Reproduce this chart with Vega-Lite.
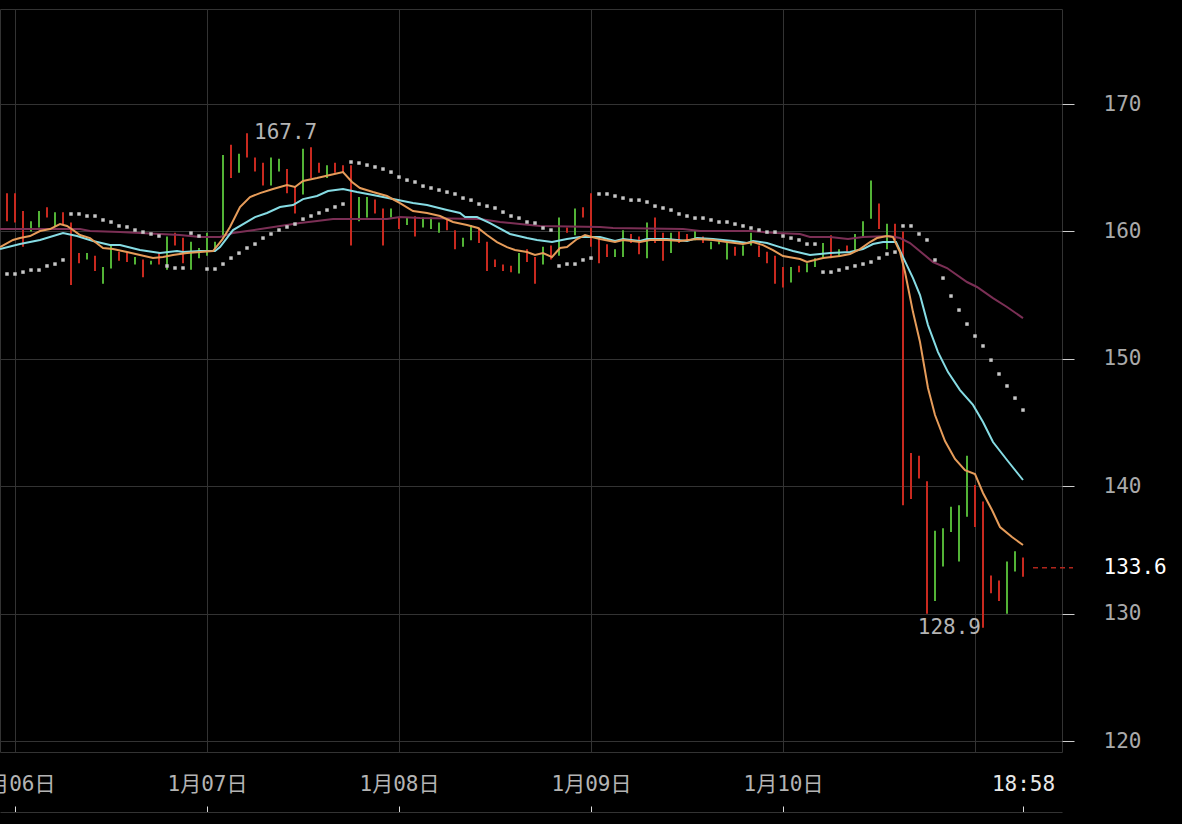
{
"$schema": "https://vega.github.io/schema/vega-lite/v6.json",
"width": 1062, "height": 743,
"autosize": {"type": "none"},
"padding": {"left": 0, "top": 9, "right": 120, "bottom": 72},
"background": "#000000",
"config": {"view": {"stroke": "#333333", "strokeWidth": 1}, "font": "DejaVu Sans Mono"},
"datasets": {
"candles": [
{"t":-1,"hi":163.0,"lo":160.8,"d":"down"},{"t":0,"hi":163.0,"lo":160.7,"d":"down"},{"t":1,"hi":161.6,"lo":158.8,"d":"down"},{"t":2,"hi":160.8,"lo":160.0,"d":"up"},{"t":3,"hi":161.6,"lo":160.3,"d":"up"},{"t":4,"hi":161.9,"lo":161.1,"d":"down"},{"t":5,"hi":161.5,"lo":160.4,"d":"up"},{"t":6,"hi":161.5,"lo":160.5,"d":"down"},{"t":7,"hi":160.7,"lo":155.8,"d":"down"},{"t":8,"hi":158.3,"lo":157.5,"d":"down"},
{"t":9,"hi":158.3,"lo":157.8,"d":"up"},{"t":10,"hi":158.1,"lo":156.9,"d":"down"},{"t":11,"hi":157.2,"lo":155.9,"d":"up"},{"t":12,"hi":158.9,"lo":157.1,"d":"up"},{"t":13,"hi":158.4,"lo":157.7,"d":"down"},{"t":14,"hi":158.3,"lo":157.6,"d":"down"},{"t":15,"hi":158.0,"lo":157.4,"d":"up"},{"t":16,"hi":157.8,"lo":156.4,"d":"down"},{"t":17,"hi":157.7,"lo":157.4,"d":"up"},{"t":18,"hi":158.3,"lo":157.4,"d":"down"},
{"t":19,"hi":159.6,"lo":157.0,"d":"up"},{"t":20,"hi":159.9,"lo":158.9,"d":"down"},{"t":21,"hi":159.5,"lo":157.5,"d":"down"},{"t":22,"hi":159.2,"lo":157.0,"d":"up"},{"t":23,"hi":158.7,"lo":157.9,"d":"up"},{"t":24,"hi":159.9,"lo":158.1,"d":"up"},{"t":25,"hi":159.2,"lo":158.6,"d":"up"},{"t":26,"hi":166.0,"lo":159.5,"d":"up"},{"t":27,"hi":166.8,"lo":164.2,"d":"down"},{"t":28,"hi":166.1,"lo":164.6,"d":"up"},
{"t":29,"hi":167.7,"lo":165.8,"d":"down"},{"t":30,"hi":165.8,"lo":164.7,"d":"down"},{"t":31,"hi":165.4,"lo":163.6,"d":"down"},{"t":32,"hi":165.8,"lo":163.6,"d":"up"},{"t":33,"hi":165.7,"lo":164.7,"d":"up"},{"t":34,"hi":164.9,"lo":163.0,"d":"down"},{"t":35,"hi":163.5,"lo":161.4,"d":"down"},{"t":36,"hi":166.5,"lo":162.9,"d":"up"},{"t":37,"hi":166.6,"lo":164.2,"d":"down"},{"t":38,"hi":165.4,"lo":164.6,"d":"down"},
{"t":39,"hi":165.2,"lo":164.2,"d":"up"},{"t":40,"hi":165.4,"lo":164.6,"d":"down"},{"t":41,"hi":165.2,"lo":164.6,"d":"down"},{"t":42,"hi":165.2,"lo":158.9,"d":"down"},{"t":43,"hi":162.7,"lo":160.8,"d":"up"},{"t":44,"hi":162.7,"lo":161.1,"d":"up"},{"t":45,"hi":162.5,"lo":161.4,"d":"down"},{"t":46,"hi":161.8,"lo":158.9,"d":"down"},{"t":47,"hi":161.8,"lo":161.1,"d":"up"},{"t":48,"hi":161.1,"lo":160.2,"d":"down"},
{"t":49,"hi":161.1,"lo":160.5,"d":"up"},{"t":50,"hi":161.2,"lo":159.6,"d":"down"},{"t":51,"hi":161.1,"lo":160.3,"d":"up"},{"t":52,"hi":161.1,"lo":160.2,"d":"up"},{"t":53,"hi":160.7,"lo":159.9,"d":"up"},{"t":54,"hi":161.0,"lo":160.1,"d":"down"},{"t":55,"hi":160.1,"lo":158.6,"d":"down"},{"t":56,"hi":159.5,"lo":158.8,"d":"up"},{"t":57,"hi":160.5,"lo":159.3,"d":"up"},{"t":58,"hi":160.3,"lo":159.1,"d":"down"},
{"t":59,"hi":159.2,"lo":156.9,"d":"down"},{"t":60,"hi":157.8,"lo":157.2,"d":"down"},{"t":61,"hi":157.4,"lo":156.9,"d":"down"},{"t":62,"hi":157.3,"lo":156.8,"d":"down"},{"t":63,"hi":158.3,"lo":156.7,"d":"up"},{"t":64,"hi":158.6,"lo":157.6,"d":"down"},{"t":65,"hi":158.0,"lo":155.9,"d":"down"},{"t":66,"hi":158.8,"lo":157.4,"d":"up"},{"t":67,"hi":158.9,"lo":157.8,"d":"down"},{"t":68,"hi":161.1,"lo":158.1,"d":"up"},
{"t":69,"hi":160.3,"lo":159.9,"d":"down"},{"t":70,"hi":161.8,"lo":159.7,"d":"up"},{"t":71,"hi":161.9,"lo":161.1,"d":"down"},{"t":72,"hi":163.0,"lo":158.8,"d":"down"},{"t":73,"hi":159.5,"lo":157.5,"d":"down"},{"t":74,"hi":159.0,"lo":158.0,"d":"down"},{"t":75,"hi":158.6,"lo":158.0,"d":"up"},{"t":76,"hi":160.1,"lo":158.0,"d":"up"},{"t":77,"hi":159.8,"lo":159.1,"d":"down"},{"t":78,"hi":159.6,"lo":158.2,"d":"down"},
{"t":79,"hi":160.7,"lo":157.9,"d":"up"},{"t":80,"hi":161.1,"lo":159.1,"d":"down"},{"t":81,"hi":159.9,"lo":157.7,"d":"down"},{"t":82,"hi":159.9,"lo":158.3,"d":"up"},{"t":83,"hi":160.0,"lo":159.1,"d":"down"},{"t":84,"hi":159.8,"lo":159.3,"d":"down"},{"t":85,"hi":160.1,"lo":159.3,"d":"up"},{"t":86,"hi":159.6,"lo":159.1,"d":"down"},{"t":87,"hi":159.2,"lo":158.6,"d":"up"},{"t":88,"hi":159.3,"lo":159.0,"d":"up"},
{"t":89,"hi":159.1,"lo":157.8,"d":"up"},{"t":90,"hi":158.8,"lo":158.1,"d":"down"},{"t":91,"hi":158.9,"lo":158.1,"d":"up"},{"t":92,"hi":159.9,"lo":158.9,"d":"up"},{"t":93,"hi":158.9,"lo":158.0,"d":"down"},{"t":94,"hi":158.4,"lo":157.5,"d":"down"},{"t":95,"hi":158.1,"lo":155.9,"d":"down"},{"t":96,"hi":157.2,"lo":155.6,"d":"down"},{"t":97,"hi":157.2,"lo":156.0,"d":"up"},{"t":98,"hi":157.3,"lo":156.8,"d":"down"},
{"t":99,"hi":157.5,"lo":156.8,"d":"up"},{"t":100,"hi":157.9,"lo":157.2,"d":"up"},{"t":101,"hi":159.1,"lo":158.0,"d":"up"},{"t":102,"hi":159.7,"lo":157.9,"d":"down"},{"t":103,"hi":158.6,"lo":158.0,"d":"up"},{"t":104,"hi":158.9,"lo":158.4,"d":"down"},{"t":105,"hi":159.8,"lo":158.5,"d":"up"},{"t":106,"hi":160.8,"lo":159.5,"d":"up"},{"t":107,"hi":164.0,"lo":161.0,"d":"up"},{"t":108,"hi":162.2,"lo":160.2,"d":"down"},
{"t":109,"hi":160.6,"lo":158.6,"d":"up"},{"t":110,"hi":160.6,"lo":159.3,"d":"down"},{"t":111,"hi":160.0,"lo":138.5,"d":"down"},{"t":112,"hi":142.6,"lo":139.0,"d":"down"},{"t":113,"hi":142.4,"lo":140.6,"d":"down"},{"t":114,"hi":140.4,"lo":130.0,"d":"down"},{"t":115,"hi":136.5,"lo":131.0,"d":"up"},{"t":116,"hi":136.7,"lo":133.7,"d":"up"},{"t":117,"hi":138.4,"lo":136.4,"d":"up"},{"t":118,"hi":138.5,"lo":134.1,"d":"up"},
{"t":119,"hi":142.4,"lo":137.6,"d":"up"},{"t":120,"hi":140.1,"lo":136.8,"d":"down"},{"t":121,"hi":138.8,"lo":128.9,"d":"down"},{"t":122,"hi":133.0,"lo":131.6,"d":"down"},{"t":123,"hi":132.6,"lo":131.0,"d":"down"},{"t":124,"hi":134.1,"lo":130.0,"d":"up"},{"t":125,"hi":134.9,"lo":133.3,"d":"up"},{"t":126,"hi":134.4,"lo":132.9,"d":"down"}
],
"ma": [
{"k":"ma30","t":-1.875,"v":160.19},{"k":"ma30","t":8.125,"v":160.19},{"k":"ma30","t":9.375,"v":160.03},{"k":"ma30","t":13.125,"v":159.95},{"k":"ma30","t":15.625,"v":159.87},{"k":"ma30","t":18.125,"v":159.8},{"k":"ma30","t":20.625,"v":159.72},{"k":"ma30","t":23.125,"v":159.56},{"k":"ma30","t":25.625,"v":159.56},{"k":"ma30","t":27.25,"v":159.87},{"k":"ma30","t":31.5,"v":160.27},{"k":"ma30","t":35.625,"v":160.66},{"k":"ma30","t":37.75,"v":160.82},{"k":"ma30","t":39.75,"v":160.97},{"k":"ma30","t":46.5,"v":160.97},{"k":"ma30","t":48.125,"v":161.13},{"k":"ma30","t":50.625,"v":161.05},{"k":"ma30","t":58.125,"v":160.97},{"k":"ma30","t":60.625,"v":160.74},{"k":"ma30","t":63.125,"v":160.58},{"k":"ma30","t":65.625,"v":160.43},{"k":"ma30","t":73.125,"v":160.35},{"k":"ma30","t":74.75,"v":160.27},{"k":"ma30","t":83.5,"v":160.19},{"k":"ma30","t":85.625,"v":160.03},{"k":"ma30","t":91.875,"v":160.03},{"k":"ma30","t":95.25,"v":159.87},{"k":"ma30","t":98.125,"v":159.8},{"k":"ma30","t":99.375,"v":159.56},{"k":"ma30","t":101.875,"v":159.56},{"k":"ma30","t":104.125,"v":159.4},{"k":"ma30","t":106,"v":159.56},{"k":"ma30","t":109.375,"v":159.64},{"k":"ma30","t":110.625,"v":159.48},{"k":"ma30","t":111.875,"v":159.09},{"k":"ma30","t":114.75,"v":157.6},{"k":"ma30","t":116.5,"v":157.13},{"k":"ma30","t":119,"v":156.03},{"k":"ma30","t":120.25,"v":155.64},{"k":"ma30","t":122.25,"v":154.77},{"k":"ma30","t":124,"v":154.07},{"k":"ma30","t":126,"v":153.2},
{"k":"ma10","t":-1.875,"v":158.62},{"k":"ma10","t":0.625,"v":159.01},{"k":"ma10","t":3.125,"v":159.33},{"k":"ma10","t":6,"v":159.87},{"k":"ma10","t":7.75,"v":159.64},{"k":"ma10","t":9.75,"v":159.25},{"k":"ma10","t":11.875,"v":158.93},{"k":"ma10","t":13.125,"v":158.93},{"k":"ma10","t":15.625,"v":158.54},{"k":"ma10","t":18.125,"v":158.3},{"k":"ma10","t":20.25,"v":158.46},{"k":"ma10","t":21,"v":158.38},{"k":"ma10","t":23.125,"v":158.46},{"k":"ma10","t":25,"v":158.46},{"k":"ma10","t":25.625,"v":158.77},{"k":"ma10","t":27.25,"v":160.11},{"k":"ma10","t":30,"v":161.13},{"k":"ma10","t":31.5,"v":161.45},{"k":"ma10","t":33.125,"v":161.92},{"k":"ma10","t":34.75,"v":162.07},{"k":"ma10","t":36,"v":162.54},{"k":"ma10","t":37.75,"v":162.78},{"k":"ma10","t":39.125,"v":163.17},{"k":"ma10","t":41,"v":163.33},{"k":"ma10","t":42.75,"v":163.09},{"k":"ma10","t":44.75,"v":162.86},{"k":"ma10","t":47.25,"v":162.54},{"k":"ma10","t":49.75,"v":162.23},{"k":"ma10","t":51.5,"v":162.07},{"k":"ma10","t":54,"v":161.68},{"k":"ma10","t":55.625,"v":161.45},{"k":"ma10","t":56.25,"v":161.13},{"k":"ma10","t":57.75,"v":161.13},{"k":"ma10","t":59.375,"v":160.66},{"k":"ma10","t":61.875,"v":159.8},{"k":"ma10","t":64,"v":159.48},{"k":"ma10","t":65.25,"v":159.33},{"k":"ma10","t":67.125,"v":159.17},{"k":"ma10","t":69,"v":159.4},{"k":"ma10","t":70.625,"v":159.56},{"k":"ma10","t":73.125,"v":159.56},{"k":"ma10","t":75,"v":159.25},{"k":"ma10","t":76,"v":159.4},{"k":"ma10","t":78.125,"v":159.25},{"k":"ma10","t":79,"v":159.4},{"k":"ma10","t":81.5,"v":159.4},{"k":"ma10","t":84,"v":159.25},{"k":"ma10","t":85.25,"v":159.48},{"k":"ma10","t":87.25,"v":159.4},{"k":"ma10","t":89.75,"v":159.25},{"k":"ma10","t":91.5,"v":159.09},{"k":"ma10","t":92.25,"v":159.25},{"k":"ma10","t":94,"v":159.09},{"k":"ma10","t":95.625,"v":158.77},{"k":"ma10","t":97.25,"v":158.46},{"k":"ma10","t":99.375,"v":158.15},{"k":"ma10","t":101.875,"v":158.3},{"k":"ma10","t":104.375,"v":158.38},{"k":"ma10","t":106,"v":158.62},{"k":"ma10","t":107.25,"v":159.01},{"k":"ma10","t":108.5,"v":159.17},{"k":"ma10","t":110.125,"v":159.17},{"k":"ma10","t":111,"v":157.99},{"k":"ma10","t":112.25,"v":156.34},{"k":"ma10","t":113.125,"v":155.01},{"k":"ma10","t":114.125,"v":152.65},{"k":"ma10","t":115.375,"v":150.53},{"k":"ma10","t":116.625,"v":148.96},{"k":"ma10","t":118.125,"v":147.55},{"k":"ma10","t":119.75,"v":146.38},{"k":"ma10","t":121,"v":145.04},{"k":"ma10","t":122.25,"v":143.47},{"k":"ma10","t":124,"v":142.06},{"k":"ma10","t":126,"v":140.49},
{"k":"ma5","t":-1.875,"v":158.77},{"k":"ma5","t":-0.25,"v":159.33},{"k":"ma5","t":0.625,"v":159.48},{"k":"ma5","t":1.875,"v":159.64},{"k":"ma5","t":3.125,"v":160.03},{"k":"ma5","t":4.375,"v":160.19},{"k":"ma5","t":5.625,"v":160.58},{"k":"ma5","t":6.5,"v":160.43},{"k":"ma5","t":7.25,"v":160.11},{"k":"ma5","t":8.125,"v":159.72},{"k":"ma5","t":9.375,"v":159.48},{"k":"ma5","t":11,"v":158.7},{"k":"ma5","t":12.25,"v":158.62},{"k":"ma5","t":14,"v":158.38},{"k":"ma5","t":15.625,"v":158.15},{"k":"ma5","t":17.25,"v":157.91},{"k":"ma5","t":18.5,"v":157.99},{"k":"ma5","t":19.75,"v":158.15},{"k":"ma5","t":21.5,"v":158.3},{"k":"ma5","t":23.125,"v":158.38},{"k":"ma5","t":24.75,"v":158.46},{"k":"ma5","t":25.875,"v":159.33},{"k":"ma5","t":26.875,"v":160.35},{"k":"ma5","t":28.125,"v":161.92},{"k":"ma5","t":29.375,"v":162.7},{"k":"ma5","t":30.625,"v":163.01},{"k":"ma5","t":32.25,"v":163.33},{"k":"ma5","t":34,"v":163.64},{"k":"ma5","t":35,"v":163.49},{"k":"ma5","t":36,"v":163.96},{"k":"ma5","t":37.75,"v":164.19},{"k":"ma5","t":39.375,"v":164.43},{"k":"ma5","t":41,"v":164.66},{"k":"ma5","t":42.125,"v":163.88},{"k":"ma5","t":43.125,"v":163.41},{"k":"ma5","t":44.75,"v":163.09},{"k":"ma5","t":46.5,"v":162.78},{"k":"ma5","t":48.125,"v":162.23},{"k":"ma5","t":49.75,"v":161.6},{"k":"ma5","t":51.5,"v":161.45},{"k":"ma5","t":53.125,"v":161.21},{"k":"ma5","t":54.75,"v":160.74},{"k":"ma5","t":56.5,"v":160.5},{"k":"ma5","t":57.875,"v":160.27},{"k":"ma5","t":59,"v":159.72},{"k":"ma5","t":60.25,"v":159.17},{"k":"ma5","t":61.5,"v":158.77},{"k":"ma5","t":62.5,"v":158.54},{"k":"ma5","t":64,"v":158.38},{"k":"ma5","t":65,"v":158.15},{"k":"ma5","t":66,"v":158.3},{"k":"ma5","t":67.125,"v":157.99},{"k":"ma5","t":68.125,"v":158.7},{"k":"ma5","t":69,"v":158.77},{"k":"ma5","t":70.25,"v":159.4},{"k":"ma5","t":71.25,"v":159.72},{"k":"ma5","t":72.125,"v":159.56},{"k":"ma5","t":73.125,"v":159.4},{"k":"ma5","t":75,"v":159.17},{"k":"ma5","t":76,"v":159.33},{"k":"ma5","t":78.125,"v":159.17},{"k":"ma5","t":79.375,"v":159.33},{"k":"ma5","t":81.5,"v":159.33},{"k":"ma5","t":83.125,"v":159.25},{"k":"ma5","t":85.25,"v":159.4},{"k":"ma5","t":87.25,"v":159.33},{"k":"ma5","t":89,"v":159.17},{"k":"ma5","t":91,"v":159.01},{"k":"ma5","t":92.25,"v":159.17},{"k":"ma5","t":93.5,"v":158.93},{"k":"ma5","t":94.75,"v":158.54},{"k":"ma5","t":96,"v":158.07},{"k":"ma5","t":98.125,"v":157.83},{"k":"ma5","t":99,"v":157.6},{"k":"ma5","t":101,"v":157.91},{"k":"ma5","t":103.125,"v":158.07},{"k":"ma5","t":104.375,"v":158.23},{"k":"ma5","t":105.625,"v":158.62},{"k":"ma5","t":106.875,"v":159.17},{"k":"ma5","t":107.75,"v":159.48},{"k":"ma5","t":109,"v":159.64},{"k":"ma5","t":109.75,"v":159.56},{"k":"ma5","t":110.625,"v":158.38},{"k":"ma5","t":111.25,"v":156.81},{"k":"ma5","t":112.25,"v":153.67},{"k":"ma5","t":113.125,"v":151.32},{"k":"ma5","t":114.125,"v":147.71},{"k":"ma5","t":115,"v":145.59},{"k":"ma5","t":116.25,"v":143.55},{"k":"ma5","t":117.5,"v":142.14},{"k":"ma5","t":118.75,"v":141.27},{"k":"ma5","t":120,"v":140.96},{"k":"ma5","t":121,"v":139.47},{"k":"ma5","t":122.125,"v":138.13},{"k":"ma5","t":123.125,"v":136.8},{"k":"ma5","t":124.625,"v":136.01},{"k":"ma5","t":126,"v":135.39}
],
"sar": [
{"t":-1,"v":156.66},{"t":0,"v":156.66},{"t":1,"v":156.81},{"t":2,"v":156.97},{"t":3,"v":156.97},{"t":4,"v":157.29},{"t":5,"v":157.44},{"t":6,"v":157.76},{"t":7,"v":161.37},{"t":8,"v":161.37},{"t":9,"v":161.21},{"t":10,"v":161.21},{"t":11,"v":160.9},{"t":12,"v":160.74},{"t":13,"v":160.43},{"t":14,"v":160.35},{"t":15,"v":160.11},{"t":16,"v":159.95},{"t":17,"v":159.8},{"t":18,"v":159.64},{"t":19,"v":157.29},{"t":20,"v":157.13},{"t":21,"v":157.13},{"t":22,"v":159.87},{"t":23,"v":159.64},{"t":24,"v":157.05},{"t":25,"v":157.05},{"t":26,"v":157.44},{"t":27,"v":157.91},{"t":28,"v":158.3},{"t":29,"v":158.7},{"t":30,"v":159.01},{"t":31,"v":159.48},{"t":32,"v":159.8},{"t":33,"v":160.11},{"t":34,"v":160.35},{"t":35,"v":160.58},{"t":36,"v":160.97},{"t":37,"v":161.21},{"t":38,"v":161.45},{"t":39,"v":161.68},{"t":40,"v":161.92},{"t":41,"v":162.15},{"t":42,"v":165.45},{"t":43,"v":165.37},{"t":44,"v":165.21},{"t":45,"v":165.06},{"t":46,"v":164.9},{"t":47,"v":164.66},{"t":48,"v":164.27},{"t":49,"v":164.03},{"t":50,"v":163.88},{"t":51,"v":163.56},{"t":52,"v":163.41},{"t":53,"v":163.25},{"t":54,"v":163.09},{"t":55,"v":162.94},{"t":56,"v":162.62},{"t":57,"v":162.46},{"t":58,"v":162.15},{"t":59,"v":161.99},{"t":60,"v":161.84},{"t":61,"v":161.52},{"t":62,"v":161.21},{"t":63,"v":161.05},{"t":64,"v":160.74},{"t":65,"v":160.66},{"t":66,"v":160.27},{"t":67,"v":160.11},{"t":68,"v":157.29},{"t":69,"v":157.44},{"t":70,"v":157.44},{"t":71,"v":157.76},{"t":72,"v":157.91},{"t":73,"v":162.94},{"t":74,"v":162.94},{"t":75,"v":162.78},{"t":76,"v":162.62},{"t":77,"v":162.46},{"t":78,"v":162.46},{"t":79,"v":162.31},{"t":80,"v":161.99},{"t":81,"v":161.84},{"t":82,"v":161.68},{"t":83,"v":161.37},{"t":84,"v":161.21},{"t":85,"v":161.05},{"t":86,"v":161.05},{"t":87,"v":160.9},{"t":88,"v":160.74},{"t":89,"v":160.74},{"t":90,"v":160.58},{"t":91,"v":160.43},{"t":92,"v":160.27},{"t":93,"v":160.11},{"t":94,"v":159.95},{"t":95,"v":159.95},{"t":96,"v":159.64},{"t":97,"v":159.48},{"t":98,"v":159.33},{"t":99,"v":159.01},{"t":100,"v":159.01},{"t":101,"v":156.81},{"t":102,"v":156.81},{"t":103,"v":156.97},{"t":104,"v":157.13},{"t":105,"v":157.29},{"t":106,"v":157.44},{"t":107,"v":157.6},{"t":108,"v":157.91},{"t":109,"v":158.23},{"t":110,"v":158.38},{"t":111,"v":160.43},{"t":112,"v":160.43},{"t":113,"v":159.8},{"t":114,"v":159.33},{"t":115,"v":157.76},{"t":116,"v":156.34},{"t":117,"v":154.93},{"t":118,"v":153.83},{"t":119,"v":152.73},{"t":120,"v":151.79},{"t":121,"v":151.01},{"t":122,"v":149.9},{"t":123,"v":148.81},{"t":124,"v":147.87},{"t":125,"v":146.92},{"t":126,"v":145.98}
]
},
"resolve": {"axis": {"x": "independent", "y": "shared"}, "scale": {"x": "shared", "y": "shared"}},
"layer": [
{
"data": {"name": "candles"},
"mark": {"type": "rule", "strokeWidth": 2},
"encoding": {
"x": {"field": "t", "type": "quantitative", "scale": {"domain": [-1.875, 130.875], "nice": false, "zero": false},
"axis": {"orient": "bottom", "values": [0, 24, 48, 72, 96, 120], "grid": true, "gridColor": "#333333", "gridWidth": 1, "labels": false, "ticks": false, "domain": false, "title": null}},
"y": {"field": "lo", "type": "quantitative", "scale": {"domain": [119.14, 177.46], "nice": false, "zero": false},
"axis": {"orient": "right", "values": [120, 130, 133.6, 140, 150, 160, 170], "grid": true,
"gridColor": {"condition": {"test": "datum.value === 133.6", "value": "transparent"}, "value": "#333333"},
"tickSize": 12, "tickWidth": 1,
"tickColor": {"condition": {"test": "datum.value === 133.6", "value": "transparent"}, "value": "#cccccc"},
"labelPadding": 29, "labelAlign": "left", "labelBaseline": "middle", "labelFont": "DejaVu Sans Mono", "labelFontSize": 21,
"labelColor": {"condition": {"test": "datum.value === 133.6", "value": "#ffffff"}, "value": "#aaaaaa"},
"labelOverlap": false, "labelExpr": "datum.value === 133.6 ? '133.6' : '' + datum.value",
"domain": false, "title": null}},
"y2": {"field": "hi"},
"color": {"field": "d", "type": "nominal", "scale": {"domain": ["up", "down", "ma5", "ma10", "ma30"], "range": ["#52b336", "#c8291f", "#e69c5a", "#86dce4", "#7b2f55"]}, "legend": null}
}
},
{
"data": {"name": "ma"},
"mark": {"type": "line", "strokeWidth": 2},
"encoding": {
"x": {"field": "t", "type": "quantitative", "axis": null},
"y": {"field": "v", "type": "quantitative"},
"color": {"field": "k", "type": "nominal", "scale": {"domain": ["up", "down", "ma5", "ma10", "ma30"], "range": ["#52b336", "#c8291f", "#e69c5a", "#86dce4", "#7b2f55"]}, "legend": null}
}
},
{
"data": {"name": "sar"},
"mark": {"type": "point", "shape": "square", "filled": true, "size": 12, "color": "#c8c8c8", "opacity": 1},
"encoding": {
"x": {"field": "t", "type": "quantitative", "axis": null},
"y": {"field": "v", "type": "quantitative"}
}
},
{
"data": {"values": [{"t": 127.25, "t2": 132.25, "v": 133.6}]},
"mark": {"type": "rule", "clip": false, "strokeDash": [5, 4], "color": "#b0261c", "strokeWidth": 1.5},
"encoding": {
"x": {"field": "t", "type": "quantitative", "axis": null},
"x2": {"field": "t2"},
"y": {"field": "v", "type": "quantitative"}
}
},
{
"data": {"values": [{"t": 121, "v": 128.9, "label": "128.9"}]},
"mark": {"type": "text", "align": "right", "baseline": "middle", "dx": -2, "font": "DejaVu Sans Mono", "fontSize": 21, "color": "#b4b4b4"},
"encoding": {
"x": {"field": "t", "type": "quantitative", "axis": null},
"y": {"field": "v", "type": "quantitative"},
"text": {"field": "label"}
}
},
{
"data": {"values": [{"t": 29, "v": 167.7, "label": "167.7"}]},
"mark": {"type": "text", "align": "left", "baseline": "middle", "dx": 7, "font": "DejaVu Sans Mono", "fontSize": 21, "color": "#b4b4b4"},
"encoding": {
"x": {"field": "t", "type": "quantitative",
"axis": {"orient": "bottom", "offset": 60, "values": [0, 24, 48, 72, 96, 126], "grid": false, "domain": true, "domainColor": "#333333", "domainWidth": 1,
"ticks": true, "tickSize": -6, "tickWidth": 1, "tickColor": "#dddddd", "labelPadding": -22, "labelBaseline": "middle", "labelFlush": false, "labelOverlap": false,
"labelFont": "DejaVu Sans Mono, Noto Sans CJK SC", "labelFontSize": 21,
"labelColor": {"condition": {"test": "datum.value === 126", "value": "#e8e8e8"}, "value": "#b4b4b4"},
"labelExpr": "datum.value === 0 ? '1月06日' : datum.value === 24 ? '1月07日' : datum.value === 48 ? '1月08日' : datum.value === 72 ? '1月09日' : datum.value === 96 ? '1月10日' : '18:58'",
"title": null}},
"y": {"field": "v", "type": "quantitative"},
"text": {"field": "label"}
}
}
]
}
